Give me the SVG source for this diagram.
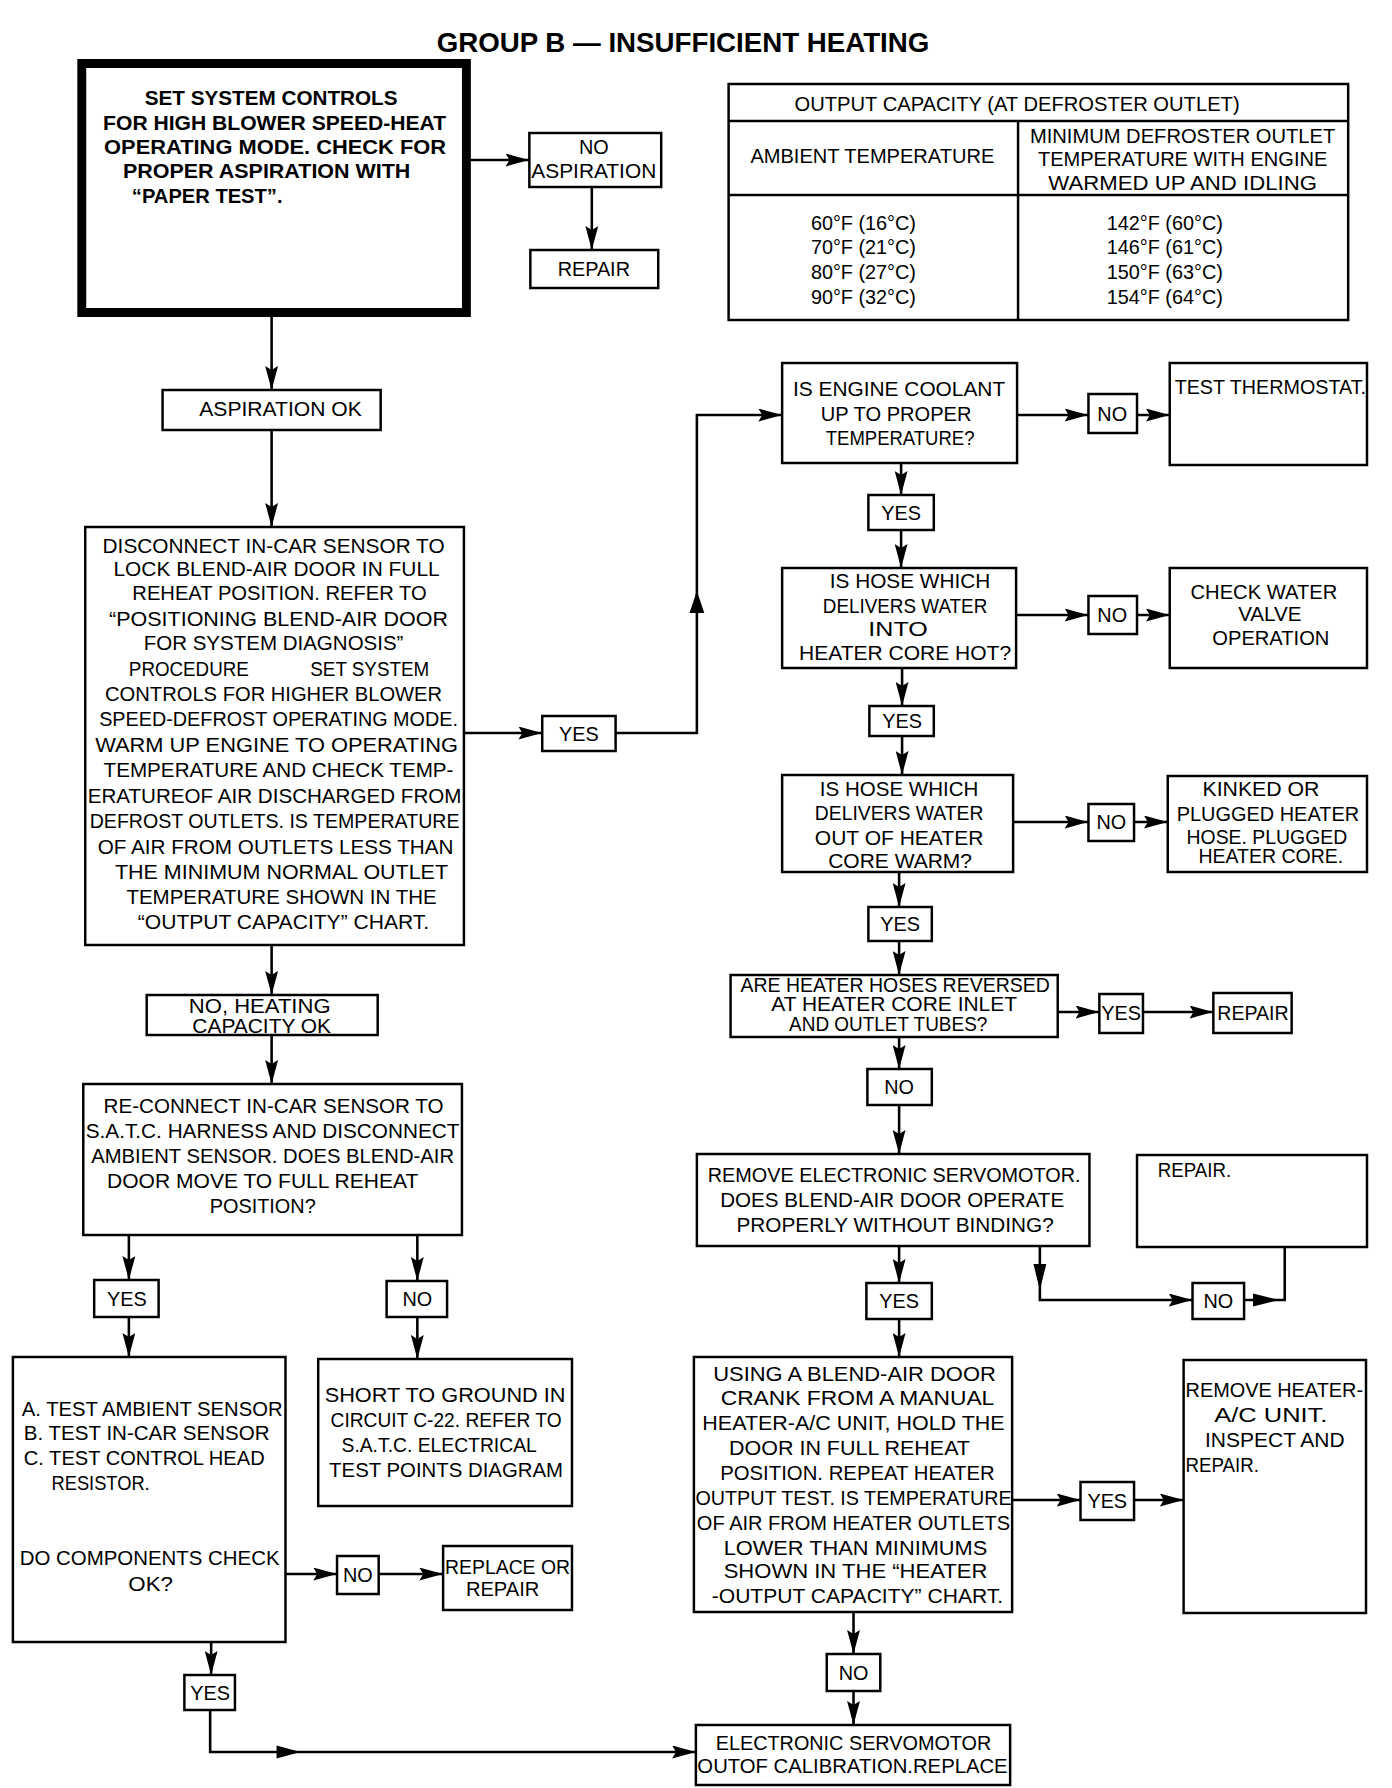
<svg xmlns="http://www.w3.org/2000/svg" width="1392" height="1788" viewBox="0 0 1392 1788">
<defs>
<marker id="ah" markerUnits="userSpaceOnUse" markerWidth="24" markerHeight="13" refX="24" refY="6.5" orient="auto">
<path d="M0,0 L24,6.5 L0,13 L4,6.5 z" fill="#000"/>
</marker>
<style>
.box{fill:#fff;stroke:#000;stroke-width:2.5}
.thick{fill:#fff;stroke:#000;stroke-width:9}
.conn path{fill:none;stroke:#000;stroke-width:2.6}
.t{font-family:"Liberation Sans",Arial,sans-serif;font-size:20px;fill:#000}
.b{font-weight:bold;font-size:21px}
.m{text-anchor:middle}
.ttl{font-family:"Liberation Sans",Arial,sans-serif;font-weight:bold;font-size:28px;text-anchor:middle}
.ahp{fill:#000}
</style>
</defs>
<rect width="1392" height="1788" fill="#fff"/>
<g id="diagram" transform="scale(0.9913 1)">
<text class="ttl" x="689" y="52" textLength="497" lengthAdjust="spacingAndGlyphs">GROUP B — INSUFFICIENT HEATING</text>

<g id="connectors" class="conn">
<path d="M475,160 H534" marker-end="url(#ah)"/>
<path d="M597,187 V250" marker-end="url(#ah)"/>
<path d="M274,317 V390" marker-end="url(#ah)"/>
<path d="M274,430 V527" marker-end="url(#ah)"/>
<path d="M468,733 H547" marker-end="url(#ah)"/>
<path d="M621,733 H703 V415 H789" marker-end="url(#ah)"/>
<polygon class="ahp" points="703,591 695.5,613 710.5,613"/>
<path d="M1026,415 H1098" marker-end="url(#ah)"/>
<path d="M1147,415 H1180" marker-end="url(#ah)"/>
<path d="M909,463 V495" marker-end="url(#ah)"/>
<path d="M909,530 V568" marker-end="url(#ah)"/>
<path d="M1025,615 H1098" marker-end="url(#ah)"/>
<path d="M1147,615 H1180" marker-end="url(#ah)"/>
<path d="M910,668 V706" marker-end="url(#ah)"/>
<path d="M910,736 V775" marker-end="url(#ah)"/>
<path d="M1022,822 H1098" marker-end="url(#ah)"/>
<path d="M1144,822 H1178" marker-end="url(#ah)"/>
<path d="M907,872 V907" marker-end="url(#ah)"/>
<path d="M907,941 V975" marker-end="url(#ah)"/>
<path d="M1067,1012 H1109" marker-end="url(#ah)"/>
<path d="M1153,1012 H1224" marker-end="url(#ah)"/>
<path d="M907,1037 V1069" marker-end="url(#ah)"/>
<path d="M907,1105 V1154" marker-end="url(#ah)"/>
<path d="M1049,1246 V1300 H1203" marker-end="url(#ah)"/>
<polygon class="ahp" points="1049,1290 1042.5,1264 1055.5,1264"/>
<path d="M1255,1300 H1296 V1247"/>
<polygon class="ahp" points="1290,1300 1264,1293.5 1264,1306.5"/>
<path d="M907,1246 V1283" marker-end="url(#ah)"/>
<path d="M907,1319 V1357" marker-end="url(#ah)"/>
<path d="M1021,1500 H1090" marker-end="url(#ah)"/>
<path d="M1144,1500 H1194" marker-end="url(#ah)"/>
<path d="M861,1612 V1654" marker-end="url(#ah)"/>
<path d="M861,1691 V1725" marker-end="url(#ah)"/>
<path d="M274,945 V995" marker-end="url(#ah)"/>
<path d="M274,1035 V1084" marker-end="url(#ah)"/>
<path d="M130,1235 V1280" marker-end="url(#ah)"/>
<path d="M130,1317 V1357" marker-end="url(#ah)"/>
<path d="M421,1235 V1281" marker-end="url(#ah)"/>
<path d="M421,1317 V1359" marker-end="url(#ah)"/>
<path d="M288,1574 H340" marker-end="url(#ah)"/>
<path d="M382,1574 H447" marker-end="url(#ah)"/>
<path d="M213,1642 V1675" marker-end="url(#ah)"/>
<path d="M212,1710 V1752 H702" marker-end="url(#ah)"/>
<polygon class="ahp" points="303,1752 279,1745.5 279,1758.5"/>
</g>

<g id="start">
<rect class="thick" x="82.5" y="63.5" width="388" height="249"/>
<text class="t b" x="146" y="105" textLength="255" lengthAdjust="spacingAndGlyphs">SET SYSTEM CONTROLS</text>
<text class="t b" x="104" y="130" textLength="346" lengthAdjust="spacingAndGlyphs">FOR HIGH BLOWER SPEED-HEAT</text>
<text class="t b" x="105" y="154" textLength="345" lengthAdjust="spacingAndGlyphs">OPERATING MODE. CHECK FOR</text>
<text class="t b" x="124" y="178" textLength="290" lengthAdjust="spacingAndGlyphs">PROPER ASPIRATION WITH</text>
<text class="t b" x="133" y="203" textLength="152" lengthAdjust="spacingAndGlyphs">“PAPER TEST”.</text>
</g>

<g id="no-aspiration">
<rect class="box" x="534" y="133" width="133" height="54"/>
<text class="t m" x="599" y="154">NO</text>
<text class="t m" x="599" y="178" textLength="126" lengthAdjust="spacingAndGlyphs">ASPIRATION</text>
</g>

<g id="repair-1">
<rect class="box" x="535" y="250" width="129" height="38"/>
<text class="t m" x="599" y="276">REPAIR</text>
</g>

<g id="output-table">
<rect class="box" x="735" y="84" width="625" height="236"/>
<path d="M735,121 H1360 M735,195 H1360 M1027,121 V320" stroke="#000" stroke-width="2.5" fill="none"/>
<text class="t m" x="1026" y="111" textLength="449" lengthAdjust="spacingAndGlyphs">OUTPUT CAPACITY (AT DEFROSTER OUTLET)</text>
<text class="t m" x="880" y="163" textLength="246" lengthAdjust="spacingAndGlyphs">AMBIENT TEMPERATURE</text>
<text class="t m" x="1193" y="143" textLength="308" lengthAdjust="spacingAndGlyphs">MINIMUM DEFROSTER OUTLET</text>
<text class="t m" x="1193" y="166" textLength="292" lengthAdjust="spacingAndGlyphs">TEMPERATURE WITH ENGINE</text>
<text class="t m" x="1193" y="190" textLength="271" lengthAdjust="spacingAndGlyphs">WARMED UP AND IDLING</text>
<text class="t m" x="871" y="230">60°F (16°C)</text>
<text class="t m" x="871" y="254">70°F (21°C)</text>
<text class="t m" x="871" y="279">80°F (27°C)</text>
<text class="t m" x="871" y="304">90°F (32°C)</text>
<text class="t m" x="1175" y="230">142°F (60°C)</text>
<text class="t m" x="1175" y="254">146°F (61°C)</text>
<text class="t m" x="1175" y="279">150°F (63°C)</text>
<text class="t m" x="1175" y="304">154°F (64°C)</text>
</g>

<g id="aspiration-ok">
<rect class="box" x="164" y="390" width="220" height="40"/>
<text class="t m" x="283" y="416" textLength="164" lengthAdjust="spacingAndGlyphs">ASPIRATION OK</text>
</g>

<g id="disconnect">
<rect class="box" x="86" y="527" width="382" height="418"/>
<text class="t m" x="276" y="553" textLength="345" lengthAdjust="spacingAndGlyphs">DISCONNECT IN-CAR SENSOR TO</text>
<text class="t m" x="279" y="576" textLength="329" lengthAdjust="spacingAndGlyphs">LOCK BLEND-AIR DOOR IN FULL</text>
<text class="t m" x="282" y="600" textLength="297" lengthAdjust="spacingAndGlyphs">REHEAT POSITION. REFER TO</text>
<text class="t m" x="281" y="626" textLength="342" lengthAdjust="spacingAndGlyphs">“POSITIONING BLEND-AIR DOOR</text>
<text class="t m" x="276" y="650" textLength="262" lengthAdjust="spacingAndGlyphs">FOR SYSTEM DIAGNOSIS”</text>
<text class="t" x="130" y="676" textLength="121" lengthAdjust="spacingAndGlyphs">PROCEDURE</text>
<text class="t" x="313" y="676" textLength="120" lengthAdjust="spacingAndGlyphs">SET SYSTEM</text>
<text class="t m" x="276" y="701" textLength="340" lengthAdjust="spacingAndGlyphs">CONTROLS FOR HIGHER BLOWER</text>
<text class="t m" x="281" y="726" textLength="362" lengthAdjust="spacingAndGlyphs">SPEED-DEFROST OPERATING MODE.</text>
<text class="t m" x="279" y="752" textLength="366" lengthAdjust="spacingAndGlyphs">WARM UP ENGINE TO OPERATING</text>
<text class="t m" x="281" y="777" textLength="353" lengthAdjust="spacingAndGlyphs">TEMPERATURE AND CHECK TEMP-</text>
<text class="t m" x="277" y="803" textLength="377" lengthAdjust="spacingAndGlyphs">ERATUREOF AIR DISCHARGED FROM</text>
<text class="t m" x="277" y="828" textLength="373" lengthAdjust="spacingAndGlyphs">DEFROST OUTLETS. IS TEMPERATURE</text>
<text class="t m" x="278" y="854" textLength="359" lengthAdjust="spacingAndGlyphs">OF AIR FROM OUTLETS LESS THAN</text>
<text class="t m" x="284" y="879" textLength="336" lengthAdjust="spacingAndGlyphs">THE MINIMUM NORMAL OUTLET</text>
<text class="t m" x="284" y="904" textLength="313" lengthAdjust="spacingAndGlyphs">TEMPERATURE SHOWN IN THE</text>
<text class="t m" x="286" y="929" textLength="294" lengthAdjust="spacingAndGlyphs">“OUTPUT CAPACITY” CHART.</text>
</g>

<g id="yes-1">
<rect class="box" x="547" y="716" width="74" height="35"/>
<text class="t m" x="584" y="741">YES</text>
</g>

<g id="engine-coolant">
<rect class="box" x="789" y="363" width="237" height="100"/>
<text class="t m" x="907" y="396" textLength="214" lengthAdjust="spacingAndGlyphs">IS ENGINE COOLANT</text>
<text class="t m" x="904" y="421" textLength="152" lengthAdjust="spacingAndGlyphs">UP TO PROPER</text>
<text class="t m" x="908" y="445" textLength="150" lengthAdjust="spacingAndGlyphs">TEMPERATURE?</text>
</g>
<g id="no-2">
<rect class="box" x="1098" y="394" width="49" height="39"/>
<text class="t m" x="1122" y="421">NO</text>
</g>
<g id="test-thermostat">
<rect class="box" x="1180" y="363" width="199" height="102"/>
<text class="t" x="1185" y="394" textLength="193" lengthAdjust="spacingAndGlyphs">TEST THERMOSTAT.</text>
</g>
<g id="yes-2">
<rect class="box" x="876" y="495" width="66" height="35"/>
<text class="t m" x="909" y="520">YES</text>
</g>

<g id="hose-in">
<rect class="box" x="789" y="568" width="236" height="100"/>
<text class="t m" x="918" y="588" textLength="162" lengthAdjust="spacingAndGlyphs">IS HOSE WHICH</text>
<text class="t m" x="913" y="613" textLength="166" lengthAdjust="spacingAndGlyphs">DELIVERS WATER</text>
<text class="t m" x="906" y="636" textLength="60" lengthAdjust="spacingAndGlyphs">INTO</text>
<text class="t m" x="913" y="660" textLength="214" lengthAdjust="spacingAndGlyphs">HEATER CORE HOT?</text>
</g>
<g id="no-3">
<rect class="box" x="1098" y="596" width="49" height="38"/>
<text class="t m" x="1122" y="622">NO</text>
</g>
<g id="check-water">
<rect class="box" x="1180" y="568" width="199" height="100"/>
<text class="t m" x="1275" y="599" textLength="148" lengthAdjust="spacingAndGlyphs">CHECK WATER</text>
<text class="t m" x="1281" y="621" textLength="64" lengthAdjust="spacingAndGlyphs">VALVE</text>
<text class="t m" x="1282" y="645" textLength="118" lengthAdjust="spacingAndGlyphs">OPERATION</text>
</g>
<g id="yes-3">
<rect class="box" x="877" y="706" width="65" height="30"/>
<text class="t m" x="910" y="728">YES</text>
</g>

<g id="hose-out">
<rect class="box" x="789" y="775" width="233" height="97"/>
<text class="t m" x="907" y="796" textLength="160" lengthAdjust="spacingAndGlyphs">IS HOSE WHICH</text>
<text class="t m" x="907" y="820" textLength="170" lengthAdjust="spacingAndGlyphs">DELIVERS WATER</text>
<text class="t m" x="907" y="845" textLength="170" lengthAdjust="spacingAndGlyphs">OUT OF HEATER</text>
<text class="t m" x="908" y="868" textLength="145" lengthAdjust="spacingAndGlyphs">CORE WARM?</text>
</g>
<g id="no-4">
<rect class="box" x="1098" y="804" width="46" height="37"/>
<text class="t m" x="1121" y="829">NO</text>
</g>
<g id="kinked">
<rect class="box" x="1178" y="776" width="201" height="96"/>
<text class="t m" x="1272" y="796" textLength="118" lengthAdjust="spacingAndGlyphs">KINKED OR</text>
<text class="t m" x="1279" y="821" textLength="184" lengthAdjust="spacingAndGlyphs">PLUGGED HEATER</text>
<text class="t m" x="1278" y="844" textLength="162" lengthAdjust="spacingAndGlyphs">HOSE. PLUGGED</text>
<text class="t m" x="1282" y="863" textLength="146" lengthAdjust="spacingAndGlyphs">HEATER CORE.</text>
</g>
<g id="yes-4">
<rect class="box" x="876" y="907" width="64" height="34"/>
<text class="t m" x="908" y="931">YES</text>
</g>

<g id="hoses-reversed">
<rect class="box" x="737" y="975" width="330" height="62"/>
<text class="t m" x="903" y="992" textLength="312" lengthAdjust="spacingAndGlyphs">ARE HEATER HOSES REVERSED</text>
<text class="t m" x="902" y="1011" textLength="248" lengthAdjust="spacingAndGlyphs">AT HEATER CORE INLET</text>
<text class="t m" x="896" y="1031" textLength="200" lengthAdjust="spacingAndGlyphs">AND OUTLET TUBES?</text>
</g>
<g id="yes-5">
<rect class="box" x="1109" y="994" width="44" height="39"/>
<text class="t m" x="1131" y="1020">YES</text>
</g>
<g id="repair-2">
<rect class="box" x="1224" y="993" width="79" height="40"/>
<text class="t m" x="1264" y="1020" textLength="72" lengthAdjust="spacingAndGlyphs">REPAIR</text>
</g>
<g id="no-5">
<rect class="box" x="875" y="1069" width="65" height="36"/>
<text class="t m" x="907" y="1094">NO</text>
</g>

<g id="remove-servo">
<rect class="box" x="703" y="1154" width="396" height="92"/>
<text class="t m" x="902" y="1182" textLength="376" lengthAdjust="spacingAndGlyphs">REMOVE ELECTRONIC SERVOMOTOR.</text>
<text class="t m" x="900" y="1207" textLength="347" lengthAdjust="spacingAndGlyphs">DOES BLEND-AIR DOOR OPERATE</text>
<text class="t m" x="903" y="1232" textLength="320" lengthAdjust="spacingAndGlyphs">PROPERLY WITHOUT BINDING?</text>
</g>
<g id="repair-3">
<rect class="box" x="1147" y="1155" width="232" height="92"/>
<text class="t" x="1168" y="1177" textLength="74" lengthAdjust="spacingAndGlyphs">REPAIR.</text>
</g>
<g id="no-6">
<rect class="box" x="1203" y="1283" width="52" height="36"/>
<text class="t m" x="1229" y="1308">NO</text>
</g>
<g id="yes-6">
<rect class="box" x="874" y="1283" width="66" height="36"/>
<text class="t m" x="907" y="1308">YES</text>
</g>

<g id="crank-test">
<rect class="box" x="700" y="1357" width="321" height="255"/>
<text class="t m" x="862" y="1381" textLength="285" lengthAdjust="spacingAndGlyphs">USING A BLEND-AIR DOOR</text>
<text class="t m" x="865" y="1405" textLength="276" lengthAdjust="spacingAndGlyphs">CRANK FROM A MANUAL</text>
<text class="t m" x="861" y="1430" textLength="305" lengthAdjust="spacingAndGlyphs">HEATER-A/C UNIT, HOLD THE</text>
<text class="t m" x="857" y="1455" textLength="243" lengthAdjust="spacingAndGlyphs">DOOR IN FULL REHEAT</text>
<text class="t m" x="865" y="1480" textLength="277" lengthAdjust="spacingAndGlyphs">POSITION. REPEAT HEATER</text>
<text class="t m" x="861" y="1505" textLength="319" lengthAdjust="spacingAndGlyphs">OUTPUT TEST. IS TEMPERATURE</text>
<text class="t m" x="861" y="1530" textLength="316" lengthAdjust="spacingAndGlyphs">OF AIR FROM HEATER OUTLETS</text>
<text class="t m" x="863" y="1555" textLength="266" lengthAdjust="spacingAndGlyphs">LOWER THAN MINIMUMS</text>
<text class="t m" x="863" y="1578" textLength="266" lengthAdjust="spacingAndGlyphs">SHOWN IN THE “HEATER</text>
<text class="t m" x="865" y="1603" textLength="294" lengthAdjust="spacingAndGlyphs">-OUTPUT CAPACITY” CHART.</text>
</g>
<g id="yes-7">
<rect class="box" x="1090" y="1482" width="54" height="38"/>
<text class="t m" x="1117" y="1508">YES</text>
</g>
<g id="remove-heater">
<rect class="box" x="1194" y="1360" width="184" height="253"/>
<text class="t" x="1196" y="1397" textLength="179" lengthAdjust="spacingAndGlyphs">REMOVE HEATER-</text>
<text class="t m" x="1282" y="1422" textLength="114" lengthAdjust="spacingAndGlyphs">A/C UNIT.</text>
<text class="t m" x="1286" y="1447" textLength="141" lengthAdjust="spacingAndGlyphs">INSPECT AND</text>
<text class="t" x="1196" y="1472" textLength="74" lengthAdjust="spacingAndGlyphs">REPAIR.</text>
</g>
<g id="no-7">
<rect class="box" x="834" y="1654" width="54" height="37"/>
<text class="t m" x="861" y="1680">NO</text>
</g>
<g id="servo-replace">
<rect class="box" x="702" y="1725" width="317" height="60"/>
<text class="t m" x="861" y="1750" textLength="278" lengthAdjust="spacingAndGlyphs">ELECTRONIC SERVOMOTOR</text>
<text class="t m" x="860" y="1773" textLength="313" lengthAdjust="spacingAndGlyphs">OUTOF CALIBRATION.REPLACE</text>
</g>

<g id="heating-ok">
<rect class="box" x="148" y="995" width="233" height="40"/>
<text class="t m" x="262" y="1013" textLength="143" lengthAdjust="spacingAndGlyphs">NO, HEATING</text>
<text class="t m" x="264" y="1033" textLength="140" lengthAdjust="spacingAndGlyphs">CAPACITY OK</text>
</g>
<g id="reconnect">
<rect class="box" x="84" y="1084" width="382" height="151"/>
<text class="t m" x="276" y="1113" textLength="343" lengthAdjust="spacingAndGlyphs">RE-CONNECT IN-CAR SENSOR TO</text>
<text class="t m" x="275" y="1138" textLength="377" lengthAdjust="spacingAndGlyphs">S.A.T.C. HARNESS AND DISCONNECT</text>
<text class="t m" x="275" y="1163" textLength="366" lengthAdjust="spacingAndGlyphs">AMBIENT SENSOR. DOES BLEND-AIR</text>
<text class="t m" x="265" y="1188" textLength="314" lengthAdjust="spacingAndGlyphs">DOOR MOVE TO FULL REHEAT</text>
<text class="t m" x="265" y="1213" textLength="107" lengthAdjust="spacingAndGlyphs">POSITION?</text>
</g>
<g id="yes-8">
<rect class="box" x="95" y="1280" width="65" height="37"/>
<text class="t m" x="128" y="1306">YES</text>
</g>
<g id="no-8">
<rect class="box" x="390" y="1281" width="61" height="36"/>
<text class="t m" x="421" y="1306">NO</text>
</g>
<g id="test-components">
<rect class="box" x="13" y="1357" width="275" height="285"/>
<text class="t" x="22" y="1416" textLength="263" lengthAdjust="spacingAndGlyphs">A.  TEST  AMBIENT SENSOR</text>
<text class="t" x="24" y="1440" textLength="248" lengthAdjust="spacingAndGlyphs">B.  TEST  IN-CAR  SENSOR</text>
<text class="t" x="24" y="1465" textLength="243" lengthAdjust="spacingAndGlyphs">C.  TEST CONTROL  HEAD</text>
<text class="t" x="52" y="1490" textLength="99" lengthAdjust="spacingAndGlyphs">RESISTOR.</text>
<text class="t" x="20" y="1565" textLength="262" lengthAdjust="spacingAndGlyphs">DO COMPONENTS CHECK</text>
<text class="t m" x="152" y="1591" textLength="45" lengthAdjust="spacingAndGlyphs">OK?</text>
</g>
<g id="short-ground">
<rect class="box" x="321" y="1359" width="256" height="147"/>
<text class="t m" x="449" y="1402" textLength="243" lengthAdjust="spacingAndGlyphs">SHORT TO GROUND IN</text>
<text class="t m" x="450" y="1427" textLength="233" lengthAdjust="spacingAndGlyphs">CIRCUIT C-22. REFER TO</text>
<text class="t m" x="443" y="1452" textLength="197" lengthAdjust="spacingAndGlyphs">S.A.T.C. ELECTRICAL</text>
<text class="t m" x="450" y="1477" textLength="236" lengthAdjust="spacingAndGlyphs">TEST POINTS DIAGRAM</text>
</g>
<g id="no-9">
<rect class="box" x="340" y="1556" width="42" height="38"/>
<text class="t m" x="361" y="1582">NO</text>
</g>
<g id="replace-repair">
<rect class="box" x="447" y="1546" width="130" height="64"/>
<text class="t m" x="512" y="1574" textLength="126" lengthAdjust="spacingAndGlyphs">REPLACE OR</text>
<text class="t m" x="507" y="1596" textLength="74" lengthAdjust="spacingAndGlyphs">REPAIR</text>
</g>
<g id="yes-9">
<rect class="box" x="186" y="1675" width="51" height="35"/>
<text class="t m" x="212" y="1700">YES</text>
</g>
</g>
</svg>
